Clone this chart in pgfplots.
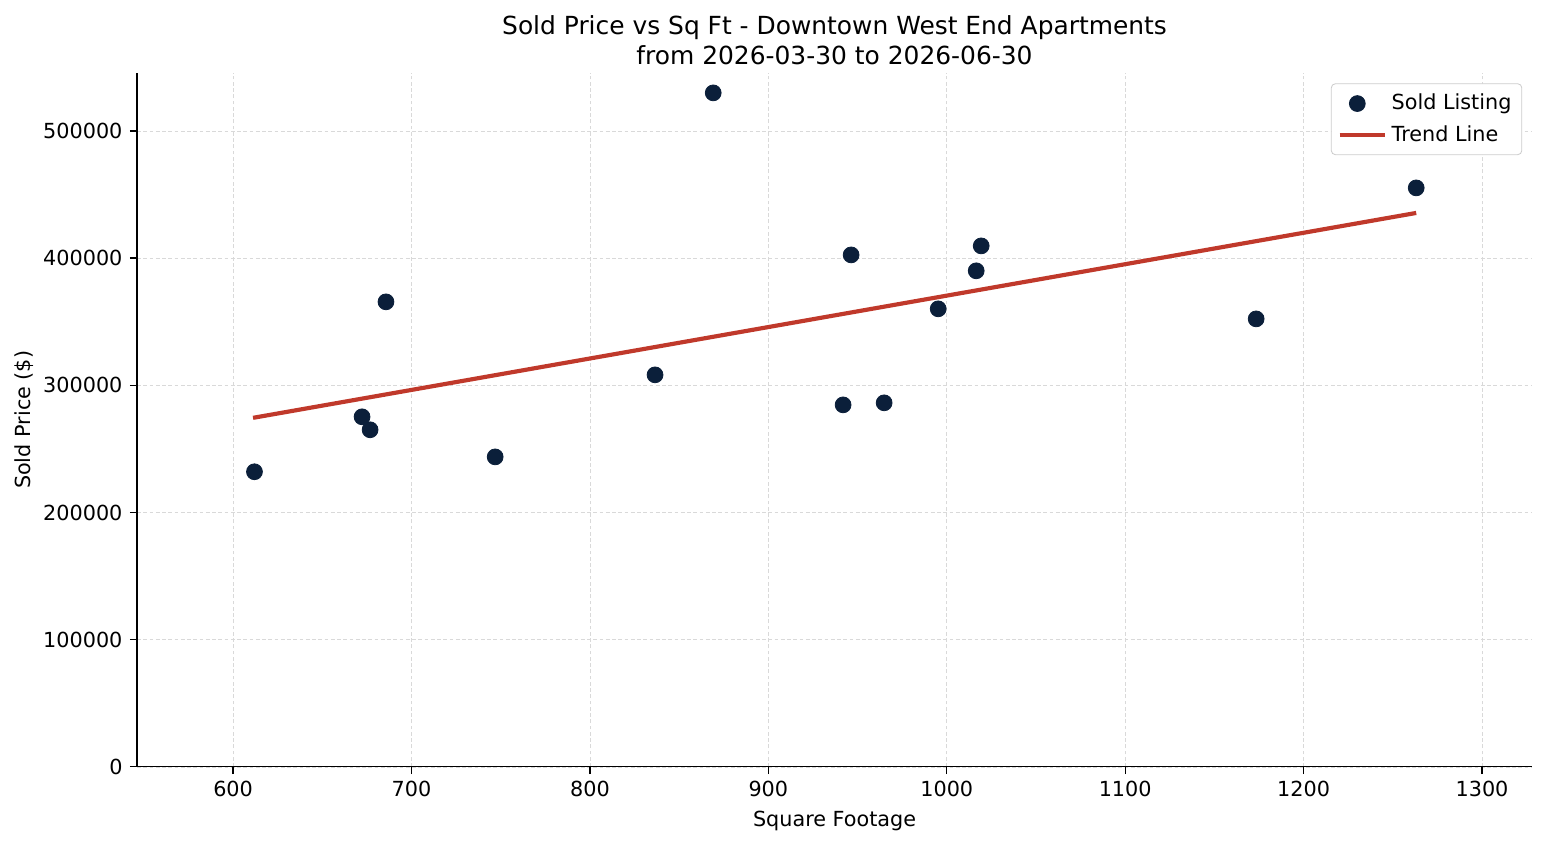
\documentclass[border=0pt]{standalone}
\usepackage{pgfplots}
\pgfplotsset{compat=1.18}
\usepackage{fontspec}
\setmainfont{DejaVu Sans}
\definecolor{navy}{HTML}{0B1F3A}
\definecolor{trend}{HTML}{C0392B}
\pgfplotsset{mylegline/.style={legend image code/.code={\draw[##1] (0bp,0bp) -- (22bp,0bp);}}}
\begin{document}
\begin{tikzpicture}
\begin{axis}[name=ax,
  scale only axis, width=669.6bp, height=333.1bp,
  xmin=546.2, xmax=1328, ymin=0, ymax=545600,
  xtick={600,700,...,1300}, ytick={0,100000,...,500000},
  scaled ticks=false,
  /pgf/number format/assume math mode=true,
  xticklabel={\pgfmathprintnumber[fixed,precision=0,1000 sep={}]{\tick}},
  yticklabel={\pgfmathprintnumber[fixed,precision=0,1000 sep={}]{\tick}},
  tick label style={font=\fontsize{10}{12}\selectfont},
  label style={font=\fontsize{10}{12}\selectfont},
  xlabel={Square Footage}, ylabel={Sold Price (\$)},
  ylabel style={yshift=-2bp},
  title style={font=\fontsize{12}{14.4}\selectfont, align=center, yshift=-5.5bp},
  title={Sold Price vs Sq Ft - Downtown West End Apartments\\from 2026-03-30 to 2026-06-30},
  axis x line*=bottom, axis y line*=left,
  axis line style={line width=0.6bp, -},
  tick style={black, line width=0.6bp},
  tick align=outside, major tick length=3.5pt,
  grid=major, grid style={dash pattern=on 1.8bp off 1.2bp, line width=0.3pt, gray!30},
  legend style={at={(0.993,0.985)}, anchor=north east, draw=gray!40, rounded corners=2pt,
    font=\fontsize{10}{12}\selectfont, row sep=2pt, inner sep=3pt},
  legend cell align=left,
]
\addplot[only marks, mark=*, mark size=3.8bp, mark options={draw=navy, fill=navy}] coordinates {
(612,232000) (672.3,275200) (676.8,265000) (685.7,365600) (746.9,243700)
(836.5,308200) (869.1,529900) (941.9,284600) (946.4,402500) (964.9,286200)
(995.2,360100) (1016.5,390000) (1019.3,409600) (1173.4,352200) (1263.1,455200)
};
\addlegendentry{Sold Listing}
\addplot[trend, line width=2bp, mark=none, mylegline] coordinates {(611.2,274400) (1263.1,435500)};
\addlegendentry{Trend Line}
\end{axis}
\pgfresetboundingbox
\path ([shift={(-65.8bp,-37.4bp)}]ax.south west) rectangle ([shift={(7.2bp,35bp)}]ax.north east);
\end{tikzpicture}
\end{document}
